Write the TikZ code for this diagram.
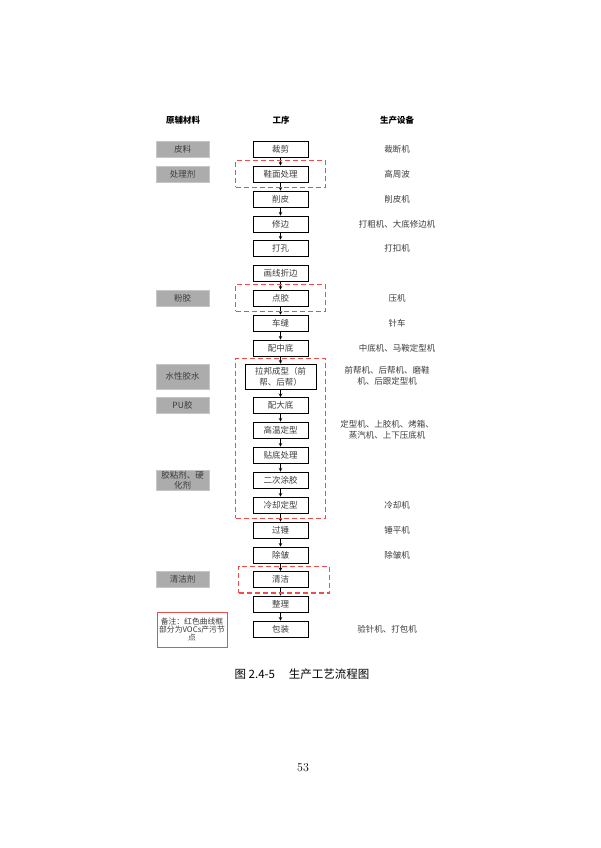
\documentclass[tikz,border=0pt]{standalone}
\usepackage{fontspec}
\newfontfamily\cjk{Noto Sans CJK SC}
\usetikzlibrary{arrows,fit}
\definecolor{vocred}{RGB}{232,80,80}
\definecolor{textgray}{RGB}{60,60,60}
\tikzstyle{process box} = [draw=black,line width=0.9pt,minimum width=55,minimum height=16,inner sep=1pt,text=textgray,font=\cjk\fontsize{8.5}{11}\selectfont,align=center]
\tikzstyle{material box} = [fill=gray!65,draw=gray!45,line width=0.5pt,minimum width=53,minimum height=16,inner sep=1pt,text=textgray,font=\cjk\fontsize{8.5}{10}\selectfont,align=center]
\tikzstyle{equip text} = [text=textgray,font=\cjk\fontsize{8.5}{11}\selectfont,align=center,inner sep=0pt]
\tikzstyle{head text} = [font=\cjk\bfseries\fontsize{8.5}{10}\selectfont,inner sep=0pt]
\tikzstyle{voc frame} = [draw=vocred,line width=1.1pt,dash pattern=on 5pt off 3pt,inner ysep=5pt,inner xsep=17pt]
\tikzstyle{note box} = [draw=vocred,line width=1pt,minimum width=70,minimum height=35,inner sep=1pt,text=textgray,font=\cjk\fontsize{7.8}{8.4}\selectfont,align=center]
\tikzstyle{flow} = [->,>=stealth,line width=0.6pt]
\begin{document}
\begin{tikzpicture}[x=1pt,y=-1pt]
    \fill[white] (0,0) rectangle (600,848);
    \useasboundingbox (0,0) rectangle (600,848);

    \node[head text] (hmat)  at (183,120) {原辅材料};
    \node[head text] (hproc) at (281,120) {工序};
    \node[head text] (hequ)  at (397,120) {生产设备};

    % process chain
    \node[process box] (cj)   at (280.5,149) {裁剪};
    \node[process box] (xmcl) at (280.5,174) {鞋面处理};
    \node[process box] (xp)   at (280.5,199) {削皮};
    \node[process box] (xb)   at (280.5,224) {修边};
    \node[process box] (dk)   at (280.5,248) {打孔};
    \node[process box] (hx)   at (280.5,273) {画线折边};
    \node[process box] (dj)   at (280.5,298) {点胶};
    \node[process box] (cf)   at (280.5,323) {车缝};
    \node[process box] (pzd)  at (280.5,348) {配中底};
    \node[process box,minimum width=71,minimum height=25] (lb) at (280.5,376.5) {拉邦成型（前\\帮、后帮）};
    \node[process box] (pdd)  at (280.5,405.5) {配大底};
    \node[process box] (gw)   at (280.5,430) {高温定型};
    \node[process box] (td)   at (280.5,455) {贴底处理};
    \node[process box] (ec)   at (280.5,480) {二次涂胶};
    \node[process box] (lq)   at (280.5,505) {冷却定型};
    \node[process box] (gc)   at (280.5,530) {过锤};
    \node[process box] (cz)   at (280.5,555) {除皱};
    \node[process box] (qj)   at (280.5,579.5) {清洁};
    \node[process box] (zl)   at (280.5,604) {整理};
    \node[process box] (bz)   at (280.5,629) {包装};

    \foreach \a/\b in {cj/xmcl,xmcl/xp,xp/xb,xb/dk,hx/dj,dj/cf,cf/pzd,pzd/lb,lb/pdd,pdd/gw,gw/td,td/ec,ec/lq,lq/gc,gc/cz,cz/qj,qj/zl,zl/bz}
      \draw[flow] (\a) -- (\b);

    % VOCs frames
    \node[voc frame,fit=(xmcl)] (v1) {};
    \node[voc frame,fit=(dj)] (v2) {};
    \node[voc frame,fit=(lb.north)(pdd)(lq)] (v3) {};
    \node[voc frame,fit=(qj),xshift=3.5pt,inner xsep=17.5pt] (v4) {};

    % raw materials
    \node[material box] (m1) at (182.5,149) {皮料};
    \node[material box] (m2) at (182.5,174) {处理剂};
    \node[material box] (m3) at (182.5,298) {粉胶};
    \node[material box,minimum height=25] (m4) at (182.5,376.5) {水性胶水};
    \node[material box] (m5) at (182.5,405.5) {PU胶};
    \node[material box,minimum height=19] (m6) at (182.5,480) {胶粘剂、硬\\化剂};
    \node[material box] (m7) at (182.5,579.5) {清洁剂};

    % equipment
    \node[equip text] (e1)  at (397,149) {裁断机};
    \node[equip text] (e2)  at (397,174) {高周波};
    \node[equip text] (e3)  at (397,199) {削皮机};
    \node[equip text] (e4)  at (397,224) {打粗机、大底修边机};
    \node[equip text] (e5)  at (397,248) {打扣机};
    \node[equip text] (e6)  at (397,298) {压机};
    \node[equip text] (e7)  at (397,323) {针车};
    \node[equip text] (e8)  at (397,348) {中底机、马鞍定型机};
    \node[equip text] (e9)  at (387,376) {前帮机、后帮机、磨鞋\\机、后跟定型机};
    \node[equip text] (e10) at (387,430) {定型机、上胶机、烤箱、\\蒸汽机、上下压底机};
    \node[equip text] (e11) at (397,505) {冷却机};
    \node[equip text] (e12) at (397,530) {锤平机};
    \node[equip text] (e13) at (397,555) {除皱机};
    \node[equip text] (e14) at (387,629) {验针机、打包机};

    \node[note box] (note) at (192,629.5) {备注：红色曲线框\\部分为VOCs产污节\\点};

    \node[font=\cjk\fontsize{11.5}{13}\selectfont] (cap) at (302,674) {图 2.4-5\hspace{1.2em}生产工艺流程图};
    \node[font=\fontsize{12}{14}\selectfont] (pno) at (303,768) {53};
\end{tikzpicture}
\end{document}
